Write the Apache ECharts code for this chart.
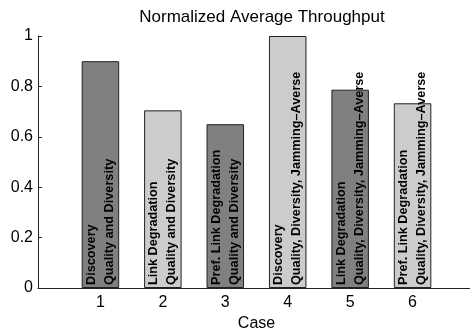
<!DOCTYPE html>
<html>
<head>
<meta charset="utf-8">
<script src="https://cdn.jsdelivr.net/npm/echarts@6/dist/echarts.min.js"></script>
<style>
  html, body { margin: 0; padding: 0; background: #fff; }
  #chart { width: 470px; height: 329px; }
</style>
</head>
<body>
<div id="chart"></div>
<script>
// Case numbers and their normalized average throughput
const cases = [1, 2, 3, 4, 5, 6];
const throughput = [0.90, 0.705, 0.65, 1.0, 0.787, 0.733];

// Two-line description written up the inside of each bar
const protocolNames = ['Discovery', 'Link Degradation', 'Pref. Link Degradation',
                       'Discovery', 'Link Degradation', 'Pref. Link Degradation'];
const metricNames = ['Quality and Diversity', 'Quality and Diversity', 'Quality and Diversity',
                     'Quality, Diversity, Jamming\u2013Averse', 'Quality, Diversity, Jamming\u2013Averse',
                     'Quality, Diversity, Jamming\u2013Averse'];

// Alternating fill shades
const barShades = ['#808080', '#cccccc'];

// Axis ticks
const yTicks = [0, 0.2, 0.4, 0.6, 0.8, 1];

const font = "'Liberation Sans', Arial, Helvetica, sans-serif";

const chart = echarts.init(document.getElementById('chart'), null, { renderer: 'canvas' });

chart.setOption({
  animation: false,
  backgroundColor: '#ffffff',
  title: {
    text: 'Normalized Average Throughput',
    left: 257,
    top: 4,
    textAlign: 'center',
    textStyle: { fontFamily: font, fontSize: 17, fontWeight: 'normal', color: '#000' }
  },
  grid: { left: 38, right: -5, top: 36, bottom: 41, containLabel: false, outerBoundsMode: 'none' },
  xAxis: {
    type: 'value',
    min: 0,
    max: 7,
    interval: 1,
    name: 'Case',
    nameLocation: 'middle',
    nameGap: 20,
    nameTextStyle: { fontFamily: font, fontSize: 16, color: '#000' },
    axisLine: { show: true, lineStyle: { color: '#222', width: 1 } },
    axisTick: { show: false },
    splitLine: { show: false },
    axisLabel: {
      fontFamily: font, fontSize: 16, color: '#000', margin: 7,
      formatter: v => (cases.indexOf(v) >= 0 ? String(v) : '')
    }
  },
  yAxis: {
    type: 'value',
    min: yTicks[0],
    max: yTicks[yTicks.length - 1],
    interval: 0.2,
    axisLine: { show: true, lineStyle: { color: '#222', width: 1 } },
    axisTick: { show: true, inside: true, length: 4, lineStyle: { color: '#222' } },
    splitLine: { show: false },
    axisLabel: {
      fontFamily: font, fontSize: 16, color: '#000', margin: 5,
      formatter: v => String(Math.round(v * 10) / 10)
    }
  },
  series: [{
    type: 'bar',
    barWidth: 37.5,
    data: cases.map((c, i) => ({
      value: [c, throughput[i]],
      itemStyle: { color: barShades[i % 2] }
    })),
    itemStyle: { borderColor: '#222', borderWidth: 1 },
    label: {
      show: true,
      position: 'insideBottom',
      distance: 3,
      rotate: 90,
      align: 'left',
      verticalAlign: 'middle',
      lineHeight: 18,
      fontFamily: font,
      fontSize: 12.7,
      fontWeight: 'bold',
      color: '#000',
      formatter: p => protocolNames[p.dataIndex] + '\n' + metricNames[p.dataIndex]
    }
  }]
});
</script>
</body>
</html>
